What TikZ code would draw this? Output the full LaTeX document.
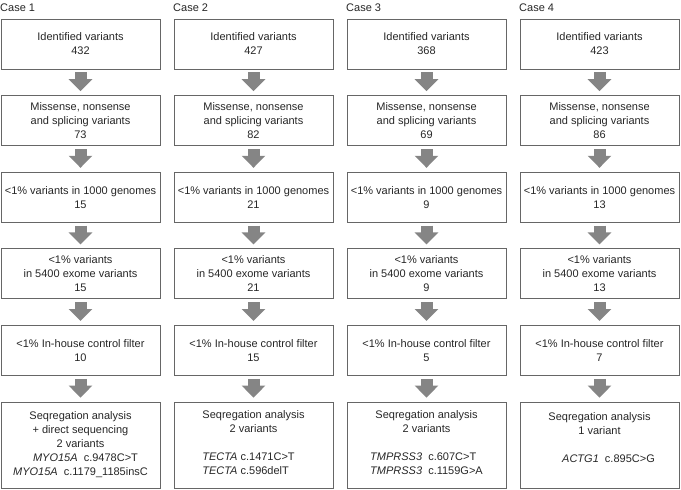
\documentclass[tikz,border=0pt]{standalone}
\usepackage{fontspec}
\setmainfont{Liberation Sans}
\usetikzlibrary{arrows.meta}

\begin{document}
\begin{tikzpicture}[x=1pt, y=1pt,
        every node/.style={font=\fontsize{11}{14}\selectfont, text=black!85},
        box/.style={draw=black!60, line width=0.8pt, minimum width=159pt, minimum height=50pt, inner sep=0pt, align=center},
        result/.style={box, minimum height=86pt},
        flow/.style={draw=black!48, line width=12pt, -{Triangle[width=23pt, length=12pt]}, shorten <=3pt, shorten >=4pt}]
        \useasboundingbox (0, 0) rectangle (681, -490);
        % case titles
        \node[anchor=west, inner sep=0pt] at (0, -8) (t1) {Case 1};
        \node[anchor=west, inner sep=0pt] at (173, -8) (t2) {Case 2};
        \node[anchor=west, inner sep=0pt] at (346, -8) (t3) {Case 3};
        \node[anchor=west, inner sep=0pt] at (519, -8) (t4) {Case 4};
        % case 1
        \node[box] at (80.5, -44) (c1r1) {Identified variants\\432};
        \node[box] at (80.5, -120.6) (c1r2) {Missense, nonsense\\and splicing variants\\73};
        \node[box] at (80.5, -197.2) (c1r3) {<1\% variants in 1000 genomes\\15};
        \node[box] at (80.5, -273.8) (c1r4) {<1\% variants\\in 5400 exome variants\\15};
        \node[box] at (80.5, -350.4) (c1r5) {<1\% In-house control filter\\10};
        \node[result] at (80.5, -445) (c1r6) {Seqregation analysis\\+ direct sequencing\\2 variants\\\hspace*{10pt}\textit{MYO15A}\ \ c.9478C>T\\\textit{MYO15A}\ \ c.1179\_1185insC};
        % case 2
        \node[box] at (253.5, -44) (c2r1) {Identified variants\\427};
        \node[box] at (253.5, -120.6) (c2r2) {Missense, nonsense\\and splicing variants\\82};
        \node[box] at (253.5, -197.2) (c2r3) {<1\% variants in 1000 genomes\\21};
        \node[box] at (253.5, -273.8) (c2r4) {<1\% variants\\in 5400 exome variants\\21};
        \node[box] at (253.5, -350.4) (c2r5) {<1\% In-house control filter\\15};
        \node[result] at (253.5, -445) (c2r6) {Seqregation analysis\\2 variants\\[14pt]\begin{tabular}[t]{@{}l@{}}\textit{TECTA} c.1471C>T\\\textit{TECTA} c.596delT\end{tabular}\hspace*{10pt}};
        % case 3
        \node[box] at (426.5, -44) (c3r1) {Identified variants\\368};
        \node[box] at (426.5, -120.6) (c3r2) {Missense, nonsense\\and splicing variants\\69};
        \node[box] at (426.5, -197.2) (c3r3) {<1\% variants in 1000 genomes\\9};
        \node[box] at (426.5, -273.8) (c3r4) {<1\% variants\\in 5400 exome variants\\9};
        \node[box] at (426.5, -350.4) (c3r5) {<1\% In-house control filter\\5};
        \node[result] at (426.5, -445) (c3r6) {Seqregation analysis\\2 variants\\[14pt]\begin{tabular}[t]{@{}l@{}}\textit{TMPRSS3}\ \ c.607C>T\\\textit{TMPRSS3}\ \ c.1159G>A\end{tabular}};
        % case 4
        \node[box] at (599.5, -44) (c4r1) {Identified variants\\423};
        \node[box] at (599.5, -120.6) (c4r2) {Missense, nonsense\\and splicing variants\\86};
        \node[box] at (599.5, -197.2) (c4r3) {<1\% variants in 1000 genomes\\13};
        \node[box] at (599.5, -273.8) (c4r4) {<1\% variants\\in 5400 exome variants\\13};
        \node[box] at (599.5, -350.4) (c4r5) {<1\% In-house control filter\\7};
        \node[result] at (599.5, -445) (c4r6) {Seqregation analysis\\1 variant\\[14pt]\hspace*{18pt}\textit{ACTG1}\ \ c.895C>G\\\mbox{}};
        % arrows
        \foreach \col in {1, 2, 3, 4}
            \foreach \from/\to in {1/2, 2/3, 3/4, 4/5, 5/6}
                \draw[flow] (c\col r\from.south) -- (c\col r\to.north);
\end{tikzpicture}
\end{document}
